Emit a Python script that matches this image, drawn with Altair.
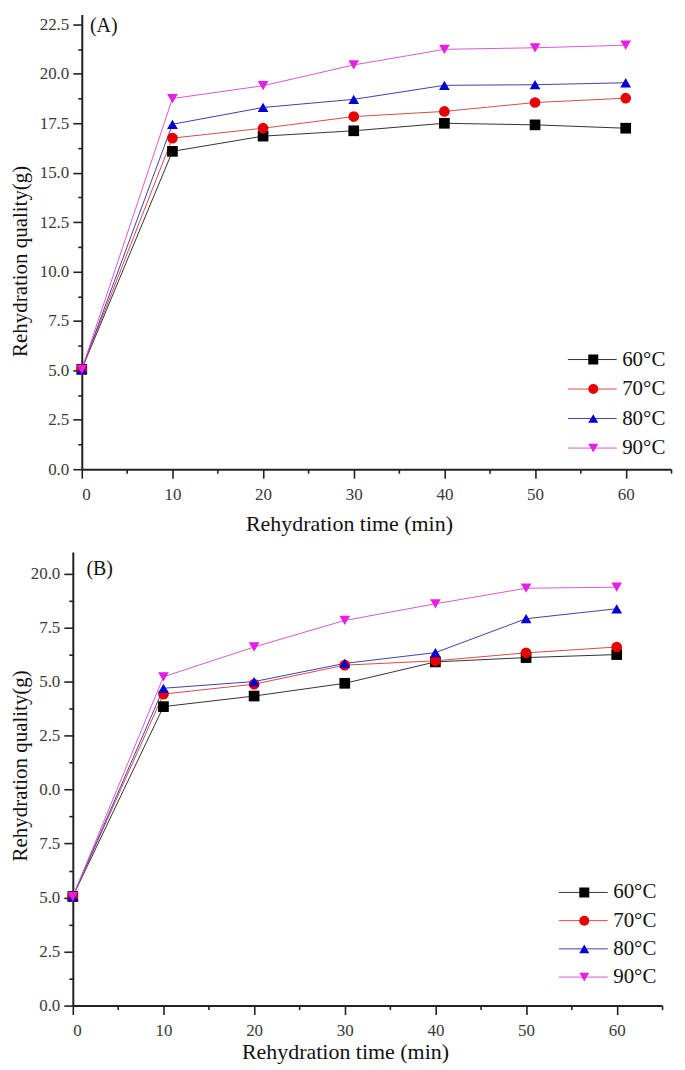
import altair as alt
import pandas as pd

# ---------------- data ----------------
times = [0, 10, 20, 30, 40, 50, 60]
series = ["60°C", "70°C", "80°C", "90°C"]

a_60 = [5.05, 16.08, 16.85, 17.12, 17.50, 17.42, 17.25]
a_70 = [5.05, 16.75, 17.25, 17.84, 18.10, 18.55, 18.77]
a_80 = [5.05, 17.45, 18.30, 18.71, 19.42, 19.45, 19.55]
a_90 = [5.05, 18.75, 19.40, 20.45, 21.24, 21.32, 21.45]

b_60 = [5.05, 13.84, 14.33, 14.92, 15.91, 16.11, 16.25]
b_70 = [5.05, 14.42, 14.88, 15.76, 15.96, 16.33, 16.60]
b_80 = [5.05, 14.69, 15.00, 15.84, 16.34, 17.91, 18.37]
b_90 = [5.05, 15.22, 16.60, 17.83, 18.60, 19.32, 19.37]

x_ticks_major = [0, 10, 20, 30, 40, 50, 60]
x_ticks_minor = [5, 15, 25, 35, 45, 55, 65]
a_ticks_major = [0.0, 2.5, 5.0, 7.5, 10.0, 12.5, 15.0, 17.5, 20.0, 22.5]
b_ticks_major = [0.0, 2.5, 5.0, 7.5, 10.0, 12.5, 15.0, 17.5, 20.0]

panel_titles = ["(A)", "(B)"]
x_title = "Rehydration time (min)"
y_title = "Rehydration quality(g)"

# ---------------- styles ----------------
FONT = "Liberation Serif"
marker_colors = ["#000000", "#e60000", "#0000d2", "#e61ee6"]
line_colors = ["#333333", "#d84a4a", "#4040a8", "#d65ad6"]
marker_shapes = ["square", "circle", "triangle-up", "triangle-down"]


def long_df(cols):
    rows = []
    for s, vals in zip(series, cols):
        for t, v in zip(times, vals):
            rows.append({"time": t, "value": v, "series": s})
    return pd.DataFrame(rows)


def minor_between(major):
    return [(major[i] + major[i + 1]) / 2 for i in range(len(major) - 1)]


def panel(cols, y_major, y_max, height, width, x_range, y_offset, label, label_xy,
          label_expr_major, ytitle_x, ytitle_y, xtitle_x, xtitle_y,
          legend_x, legend_y, row_pad):
    df = long_df(cols)
    y_vals = sorted(y_major + minor_between(y_major))
    x_vals = sorted(x_ticks_major + x_ticks_minor)
    minor_y_test = "round(datum.value / 1.25) % 2 == 1"
    minor_x_test = "round(datum.value / 5) % 2 == 1"

    x_axis = alt.Axis(
        values=x_vals,
        labelExpr=f"{minor_x_test} ? '' : format(datum.value, 'd')",
        tickSize={"condition": {"test": minor_x_test, "value": 4}, "value": 9},
        labelPadding=8,
        labelFont=FONT, labelFontSize=17, labelColor="#3a3a3a",
        title=x_title, titleFont=FONT, titleFontSize=22, titleFontWeight="normal",
        titleColor="#111111",
        titleX=xtitle_x, titleY=xtitle_y, titleAlign="center", titleBaseline="middle",
        labelOverlap=False,
    )
    y_axis = alt.Axis(
        values=y_vals,
        labelExpr=f"{minor_y_test} ? '' : {label_expr_major}",
        tickSize={"condition": {"test": minor_y_test, "value": 4}, "value": 9},
        labelPadding=4,
        labelFont=FONT, labelFontSize=17, labelColor="#3a3a3a",
        title=y_title, titleFont=FONT, titleFontSize=21, titleFontWeight="normal",
        titleColor="#111111",
        titleX=ytitle_x, titleY=ytitle_y, titleAngle=270,
        titleAlign="center", titleBaseline="middle",
        labelOverlap=False,
        offset=y_offset,
    )
    x = alt.X("time:Q", scale=alt.Scale(domain=[0, 65], nice=False, zero=False, range=x_range),
              axis=x_axis)
    y = alt.Y("value:Q", scale=alt.Scale(domain=[0, y_max], nice=False, zero=False), axis=y_axis)

    base = alt.Chart(df)
    common_leg = dict(orient="none", legendY=legend_y, title=None, labelFont=FONT,
                      labelFontSize=21, rowPadding=row_pad, padding=0, clipHeight=21)

    # legend part 1: the connecting line of each entry (drawn from the line layer)
    line_leg = alt.Legend(legendX=legend_x + 1, symbolSize=2401, symbolStrokeWidth=1,
                          labelExpr="''", labelColor="transparent", labelOffset=0,
                          **common_leg)
    lines = base.mark_line(strokeWidth=1).encode(
        x=x, y=y,
        color=alt.Color("series:N", scale=alt.Scale(domain=series, range=line_colors),
                        legend=line_leg),
    )

    # legend part 2: the marker and label of each entry (drawn from the point layer)
    pt_leg = alt.Legend(legendX=legend_x + 16.5, symbolSize=100, symbolStrokeWidth=0,
                        labelColor="#111111", labelOffset=18.5, **common_leg)
    points = base.mark_point(filled=True, size=115, opacity=1).encode(
        x=x, y=y,
        color=alt.Color("series:N", scale=alt.Scale(domain=series, range=marker_colors),
                        legend=pt_leg),
        shape=alt.Shape("series:N", scale=alt.Scale(domain=series, range=marker_shapes),
                        legend=pt_leg),
    )

    ann = pd.DataFrame({"time": [label_xy[0]], "value": [label_xy[1]], "t": [label]})
    text = alt.Chart(ann).mark_text(
        align="left", baseline="middle", font=FONT, fontSize=20, color="#111111"
    ).encode(x=x, y=y, text="t:N")

    return (
        alt.layer(lines, points, text)
        .resolve_scale(color="independent", shape="independent")
        .resolve_legend(color="independent", shape="independent")
        .properties(width=width, height=height)
    )


expr_a = "format(datum.value, '.1f')"
expr_b = ("(datum.value >= 10 && datum.value < 20) ? "
          "format(datum.value - 10, '.1f') : format(datum.value, '.1f')")

chart_a = panel([a_60, a_70, a_80, a_90], a_ticks_major, 23, 456, 591, [0, 591], 0,
                panel_titles[0], (0.9, 22.4), expr_a,
                -61, 247, 268, 54, 486, 335.5, 7.6)
chart_b = panel([b_60, b_70, b_80, b_90], b_ticks_major, 21, 455, 582, [-9, 582], 9,
                panel_titles[1], (1.5, 20.2), expr_b,
                -52, 214, 264, 46, 477, 331, 6.3)

chart = (
    alt.concat(chart_a, chart_b, columns=1, spacing=18)
    .resolve_scale(color="independent", shape="independent")
    .resolve_legend(color="independent", shape="independent")
    .properties(padding={"left": 2, "top": 5, "right": 5, "bottom": 0}, background="white")
    .configure_view(stroke=None)
    .configure_axis(
        grid=False,
        domainColor="#222222", domainWidth=2,
        tickColor="#222222", tickWidth=1.6,
    )
)

chart.save("out.html", embed_options={"renderer": "svg", "actions": False})
